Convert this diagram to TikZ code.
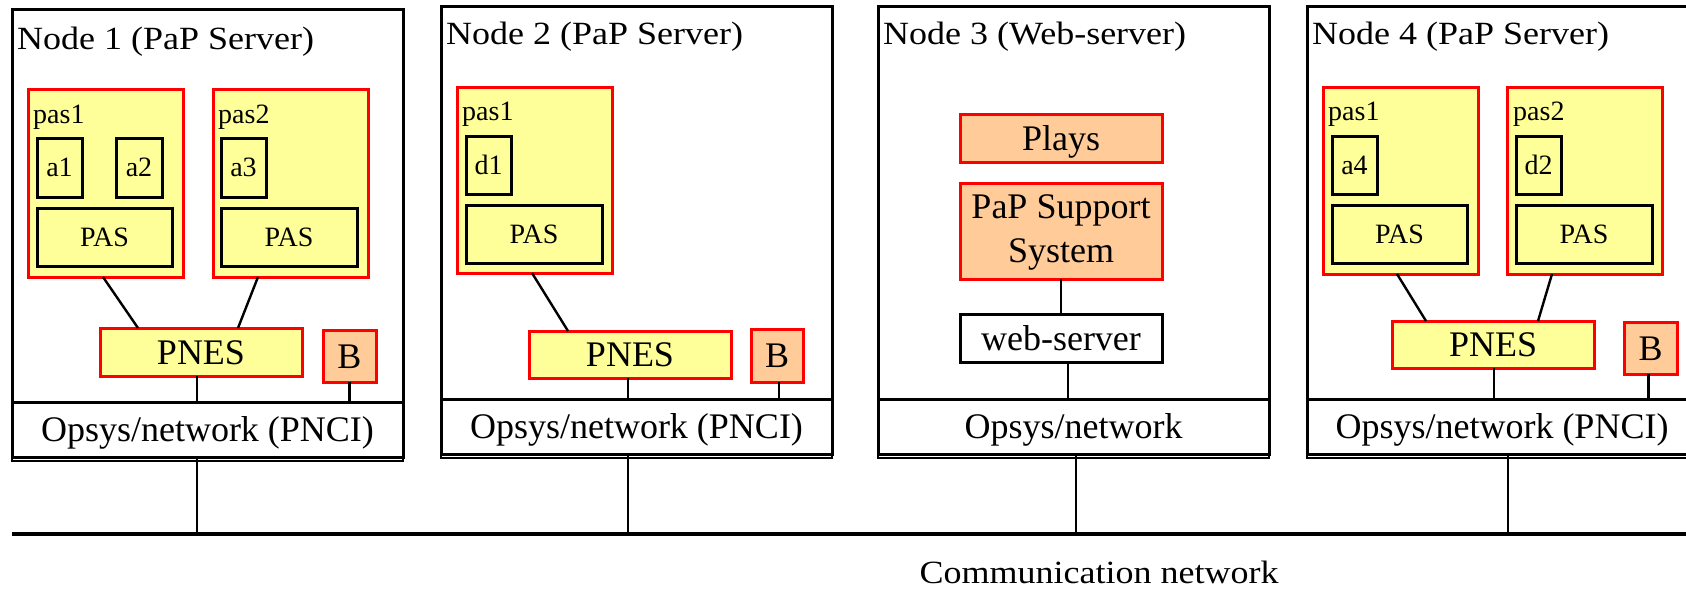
\documentclass[tikz,border=0pt]{standalone}
\usepackage{fontspec}
\setmainfont{Liberation Serif}
\usepackage{graphicx}
\usetikzlibrary{calc}

\definecolor{pasyellow}{HTML}{FFFF99}
\definecolor{peach}{HTML}{FFCC99}
\definecolor{edgered}{HTML}{FF0000}

\newcommand\bigtxt{\fontsize{36}{44}\selectfont}
\newcommand\smalltxt{\fontsize{28}{34}\selectfont}
\newcommand\squash[1]{\scalebox{1}[0.9]{#1}}

% box: name, style, x1, y1, x2, y2, text
\newcommand\bx[7]{%
  \node[#2, minimum width={#5-#3}, minimum height={#6-#4}] (#1) at (#3,#4) {#7};}

\tikzset{
  x=1pt, y=-1pt,
  anybox/.style={anchor=north west, inner sep=0pt, outer sep=0pt, align=center},
  bigt/.style={font=\bigtxt, text height=24.5pt, text depth=0.5pt},
  smallt/.style={font=\smalltxt, text height=19pt, text depth=0.5pt},
  frame/.style={anybox, draw=black, line width=3pt},
  osbox/.style={anybox, bigt, draw=black, line width=3pt, fill=white},
  pasbox/.style={anybox, draw=edgered, line width=3pt, fill=pasyellow},
  inner/.style={anybox, smallt, draw=black, line width=3pt},
  pnes/.style={anybox, bigt, draw=edgered, line width=3pt, fill=pasyellow},
  orangebox/.style={anybox, bigt, draw=edgered, line width=3pt, fill=peach},
  plainbox/.style={anybox, bigt, draw=black, line width=3pt, fill=white},
  title/.style={anchor=base west, inner sep=0pt, font=\bigtxt},
  paslabel/.style={anchor=base west, inner sep=0pt, font=\smalltxt},
  wire/.style={line width=2.4pt},
  shadowline/.style={line width=2.6pt},
  bus/.style={line width=3.2pt},
}

\begin{document}
\begin{tikzpicture}
\useasboundingbox (0,0) rectangle (1686,594);
\clip (0,0) rectangle (1686,594);

% ---------------- Node 1 ----------------
\bx{n1}{frame}{12}{10}{403}{457}{}
\node[title] (n1t) at (17,50) {\squash{Node 1 (PaP Server)}};
\bx{n1os}{osbox}{12}{402}{403}{457}{Opsys/network (PNCI)}
\draw[shadowline] (n1os.south west) -- ++(0,4) -- ([yshift=-4pt]n1os.south east) -- (n1os.south east);
\bx{n1p1}{pasbox}{28}{89}{183}{277}{}
\node[paslabel] (n1p1l) at (33,123) {pas1};
\bx{n1a1}{inner}{37}{138}{82}{197}{a1}
\bx{n1a2}{inner}{116}{138}{162}{197}{a2}
\bx{n1s1}{inner}{37}{208}{172}{266}{PAS}
\bx{n1p2}{pasbox}{213}{89}{368}{277}{}
\node[paslabel] (n1p2l) at (218,123) {pas2};
\bx{n1a3}{inner}{221}{138}{266}{197}{a3}
\bx{n1s2}{inner}{221}{208}{357}{266}{PAS}
\bx{n1pn}{pnes}{100}{328}{302}{376}{PNES}
\bx{n1b}{orangebox}{323}{330}{376}{382}{B}
\draw[wire] ([xshift=75pt]n1p1.south west) -- ([xshift=38pt]n1pn.north west);
\draw[wire] ([xshift=45pt]n1p2.south west) -- ([xshift=138pt]n1pn.north west);
\draw[wire] ([xshift=-4pt]n1pn.south) -- ([xshift=-4pt]n1pn.south |- n1os.north);
\draw[wire] (n1b.south) -- (n1b.south |- n1os.north);

% ---------------- Node 2 ----------------
\bx{n2}{frame}{441}{7}{832}{454}{}
\node[title] (n2t) at (446,45) {\squash{Node 2 (PaP Server)}};
\bx{n2os}{osbox}{441}{399}{832}{454}{Opsys/network (PNCI)}
\draw[shadowline] (n2os.south west) -- ++(0,4) -- ([yshift=-4pt]n2os.south east) -- (n2os.south east);
\bx{n2p1}{pasbox}{457}{87}{612}{273}{}
\node[paslabel] (n2p1l) at (462,120) {pas1};
\bx{n2d1}{inner}{466}{136}{511}{194}{d1}
\bx{n2s1}{inner}{466}{205}{602}{263}{PAS}
\bx{n2pn}{pnes}{529}{331}{731}{378}{PNES}
\bx{n2b}{orangebox}{751}{329}{803}{382}{B}
\draw[wire] ([xshift=75pt]n2p1.south west) -- ([xshift=39pt]n2pn.north west);
\draw[wire] ([xshift=-2pt]n2pn.south) -- ([xshift=-2pt]n2pn.south |- n2os.north);
\draw[wire] ([xshift=2pt]n2b.south) -- ([xshift=2pt]n2b.south |- n2os.north);

% ---------------- Node 3 ----------------
\bx{n3}{frame}{878}{7}{1269}{454}{}
\node[title] (n3t) at (883,45) {\squash{Node 3 (Web-server)}};
\bx{n3os}{osbox}{878}{399}{1269}{454}{Opsys/network}
\draw[shadowline] (n3os.south west) -- ++(0,4) -- ([yshift=-4pt]n3os.south east) -- (n3os.south east);
\bx{n3pl}{orangebox}{960}{114}{1162}{162}{Plays}
\node[anybox, draw=edgered, line width=3pt, fill=peach, font=\bigtxt,
  minimum width=202, minimum height=96] (n3ps) at (960,183)
  {\rule{0pt}{26pt}PaP Support\\System};
\bx{n3ws}{plainbox}{960}{314}{1162}{362}{web-server}
\draw[wire] (n3ps.south) -- (n3ws.north);
\draw[wire] ([xshift=7pt]n3ws.south) -- ([xshift=7pt]n3ws.south |- n3os.north);

% ---------------- Node 4 ----------------
\bx{n4}{frame}{1307}{7}{1697}{454}{}
\node[title] (n4t) at (1312,45) {\squash{Node 4 (PaP Server)}};
\bx{n4os}{osbox}{1307}{399}{1697}{454}{Opsys/network (PNCI)}
\draw[shadowline] (n4os.south west) -- ++(0,4) -- ([yshift=-4pt]n4os.south east) -- (n4os.south east);
\bx{n4p1}{pasbox}{1323}{87}{1478}{274}{}
\node[paslabel] (n4p1l) at (1328,120) {pas1};
\bx{n4a4}{inner}{1332}{136}{1377}{194}{a4}
\bx{n4s1}{inner}{1332}{205}{1467}{263}{PAS}
\bx{n4p2}{pasbox}{1507}{87}{1662}{274}{}
\node[paslabel] (n4p2l) at (1513,120) {pas2};
\bx{n4d2}{inner}{1516}{136}{1561}{194}{d2}
\bx{n4s2}{inner}{1516}{205}{1652}{263}{PAS}
\bx{n4pn}{pnes}{1392}{321}{1594}{368}{PNES}
\bx{n4b}{orangebox}{1624}{322}{1677}{374}{B}
\draw[wire] ([xshift=74pt]n4p1.south west) -- ([xshift=34pt]n4pn.north west);
\draw[wire] ([xshift=45pt]n4p2.south west) -- ([xshift=146pt]n4pn.north west);
\draw[wire] ([xshift=1pt]n4pn.south) -- ([xshift=1pt]n4pn.south |- n4os.north);
\draw[wire] ([xshift=-2pt]n4b.south) -- ([xshift=-2pt]n4b.south |- n4os.north);

% ---------------- Communication network ----------------
\coordinate (busL) at (12,534);
\coordinate (busR) at (1686,534);
\draw[bus] (busL) -- (busR);
\draw[wire] ([xshift=-10.5pt]n1os.south) -- ([xshift=-10.5pt]n1os.south |- busL);
\draw[wire] ([xshift=-8.5pt]n2os.south) -- ([xshift=-8.5pt]n2os.south |- busL);
\draw[wire] ([xshift=2.5pt]n3os.south) -- ([xshift=2.5pt]n3os.south |- busL);
\draw[wire] ([xshift=6pt]n4os.south) -- ([xshift=6pt]n4os.south |- busL);
\node[anchor=base, inner sep=0pt, font=\bigtxt] (comm) at (1099,583) {\squash{Communication network}};
\end{tikzpicture}
\end{document}
